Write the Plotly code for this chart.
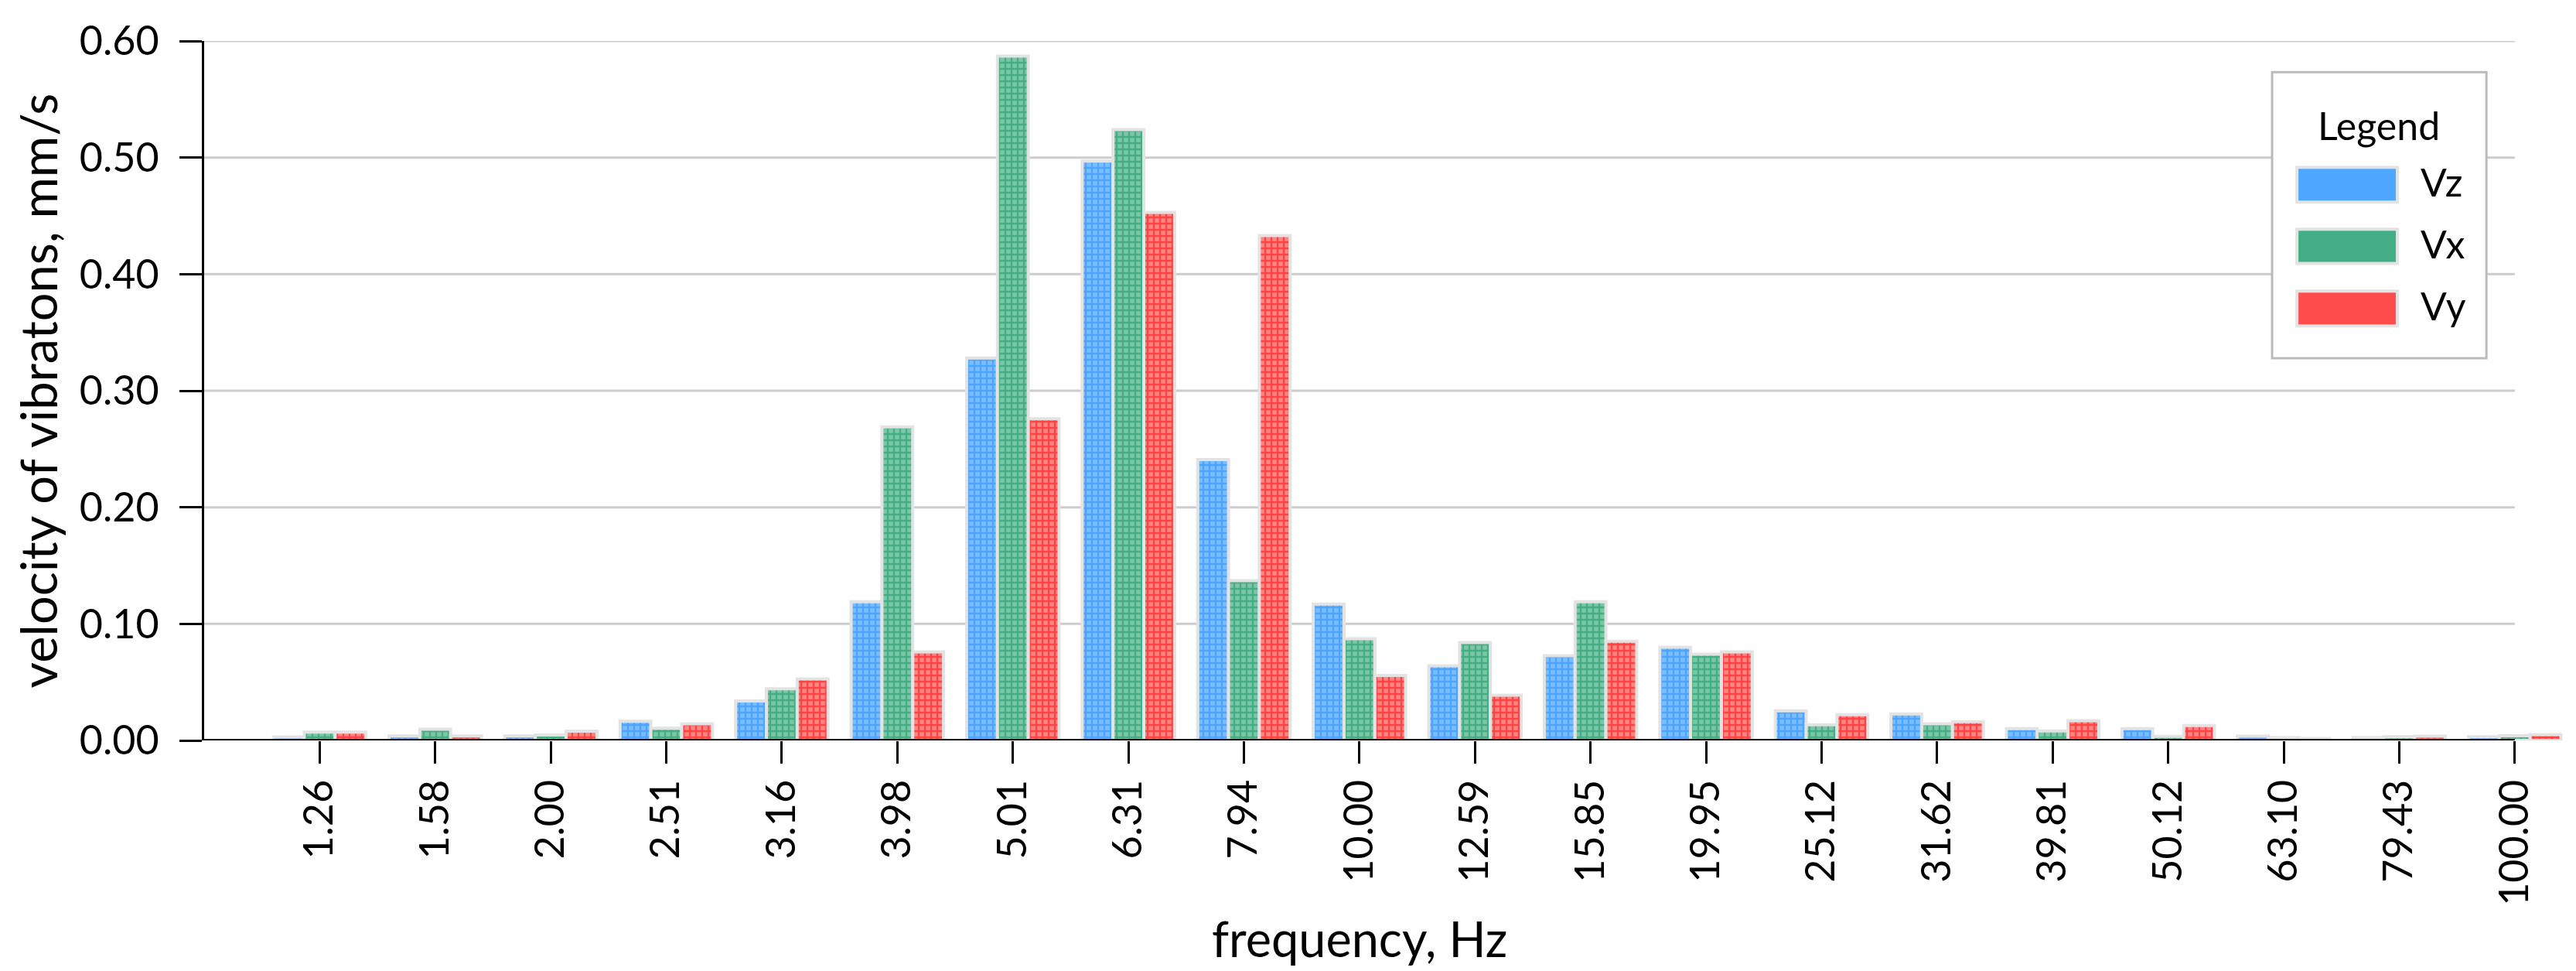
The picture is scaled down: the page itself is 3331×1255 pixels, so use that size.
import plotly.graph_objects as go

# frequency bands (Hz) and the three velocity components, mm/s
freq_labels = ["1.26", "1.58", "2.00", "2.51", "3.16", "3.98", "5.01", "6.31", "7.94", "10.00",
               "12.59", "15.85", "19.95", "25.12", "31.62", "39.81", "50.12", "63.10", "79.43", "100.00"]

vz = [0.003, 0.0038, 0.0038, 0.0165, 0.0338, 0.119, 0.328, 0.497, 0.241, 0.117,
      0.064, 0.0726, 0.080, 0.0254, 0.0228, 0.0102, 0.0102, 0.0036, 0.0023, 0.0031]
vx = [0.0072, 0.0097, 0.0046, 0.0105, 0.0443, 0.269, 0.587, 0.524, 0.137, 0.0873,
      0.084, 0.119, 0.074, 0.0135, 0.0142, 0.0082, 0.0035, 0.0023, 0.0031, 0.004]
vy = [0.0072, 0.0038, 0.008, 0.0143, 0.0527, 0.076, 0.276, 0.453, 0.433, 0.0557,
      0.0388, 0.0852, 0.076, 0.0221, 0.0161, 0.017, 0.0128, 0.0016, 0.0037, 0.0049]

y_ticks = [0.0, 0.1, 0.2, 0.3, 0.4, 0.5, 0.6]

series = [
    ("Vz", vz, "#7dbcff", "#1a8cff", "#4ea6ff"),
    ("Vx", vx, "#7cc6a6", "#0e9462", "#43ad85"),
    ("Vy", vy, "#ff8585", "#ff0000", "#ff4d4d"),
]

FONT = "Lato"
idx = list(range(len(freq_labels)))

fig = go.Figure()
for name, vals, light, dark, mid in series:
    fig.add_trace(go.Bar(
        x=idx, y=vals, name=name, showlegend=False,
        marker=dict(color=light,
                    line=dict(color="#e3e3e3", width=4),
                    pattern=dict(shape="+", fgcolor=dark, size=8, solidity=0.5)),
    ))

# grid lines and x baseline stop at the last category, like the original
shapes = []
for v in y_ticks[1:]:
    shapes.append(dict(type="line", xref="x", yref="y", x0=-1, x1=len(idx) - 1, y0=v, y1=v,
                       line=dict(color="#cccccc", width=3), layer="below"))
shapes.append(dict(type="line", xref="x", yref="y", x0=-1, x1=len(idx) - 1, y0=0, y1=0,
                   line=dict(color="black", width=4), layer="above"))

# hand-made legend box (big swatches)
shapes.append(dict(type="rect", xref="paper", yref="paper", x0=0.8753, x1=0.9660, y0=0.5464, y1=0.9555,
                   line=dict(color="#bbbbbb", width=3), fillcolor="white", layer="above"))
annotations = [dict(text="Legend", xref="paper", yref="paper", x=0.9205, y=0.8797,
                    xanchor="center", yanchor="middle", showarrow=False,
                    font=dict(family=FONT, size=50, color="black"))]
sw_y = [(0.7696, 0.8193), (0.6821, 0.7310), (0.5927, 0.6424)]
for (name, vals, light, dark, mid), (y0, y1) in zip(series, sw_y):
    shapes.append(dict(type="rect", xref="paper", yref="paper", x0=0.8858, x1=0.9283, y0=y0, y1=y1,
                       line=dict(color="#e3e3e3", width=4), fillcolor=mid, layer="above"))
    annotations.append(dict(text=name, xref="paper", yref="paper", x=0.9375, y=(y0 + y1) / 2 + 0.004,
                            xanchor="left", yanchor="middle", showarrow=False,
                            font=dict(family=FONT, size=50, color="black")))

annotations.append(dict(text="frequency, Hz", xref="x", yref="paper", x=(len(idx) - 2) / 2, y=-0.283,
                        xanchor="center", yanchor="middle", showarrow=False,
                        font=dict(family=FONT, size=63, color="black")))

fig.update_layout(
    width=3331, height=1255,
    margin=dict(l=256, r=20, t=43, b=306),
    paper_bgcolor="white", plot_bgcolor="white",
    bargap=0.2, bargroupgap=0,
    barmode="group",
    font=dict(family=FONT, color="black"),
    shapes=shapes, annotations=annotations,
)

fig.update_xaxes(
    range=[-1, len(idx) - 0.55],
    tickmode="array", tickvals=idx, ticktext=freq_labels,
    tickangle=-90, ticks="outside", ticklen=29, tickwidth=3, tickcolor="black",
    tickfont=dict(family=FONT, size=52, color="black"),
    showgrid=False, showline=False, zeroline=False,
)
fig.update_yaxes(
    range=[0, 0.6],
    tickmode="array", tickvals=y_ticks, tickformat=".2f",
    ticks="outside", ticklen=29, tickwidth=3, tickcolor="black",
    tickfont=dict(family=FONT, size=52, color="black"),
    ticklabelstandoff=16,
    showgrid=False, zeroline=False,
    showline=True, linecolor="black", linewidth=3,
    title=dict(text="velocity of vibratons, mm/s", standoff=8,
               font=dict(family=FONT, size=65, color="black")),
)

fig.write_html("out.html")
